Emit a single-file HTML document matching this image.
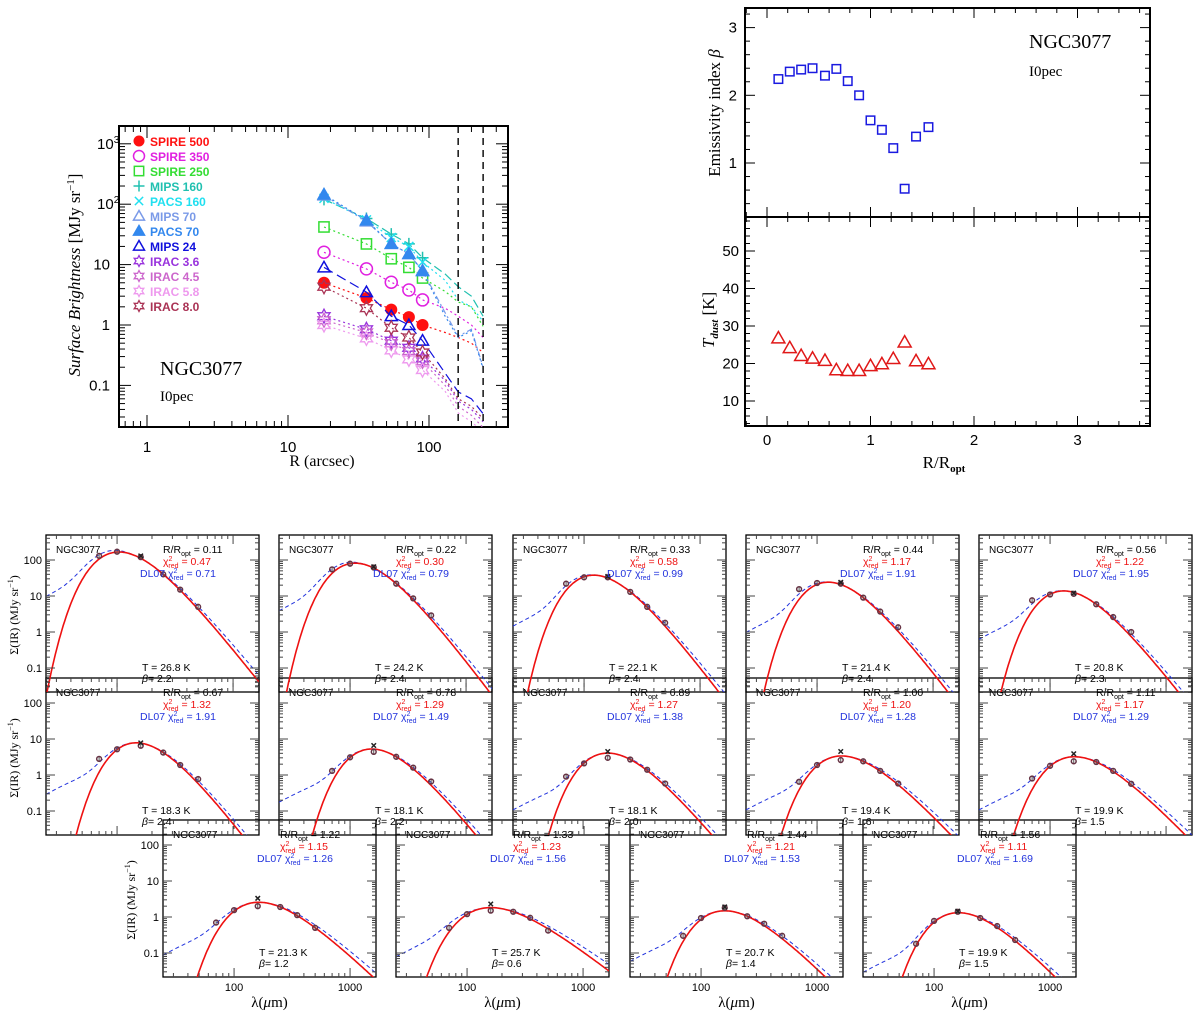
<!DOCTYPE html>
<html><head><meta charset="utf-8">
<style>
html,body{margin:0;padding:0;background:#fff;}
svg{display:block;}
text{font-family:"Liberation Sans",sans-serif;}
.serif{font-family:"Liberation Serif",serif;}
</style></head>
<body>
<svg id="fig" xmlns="http://www.w3.org/2000/svg" width="1200" height="1012" viewBox="0 0 1200 1012">
<defs id="defs"></defs>
</svg>
<script>
// ===== Top-left: surface brightness profiles =====
const radii = [18, 36, 54, 72, 90];
const extRadii = [130, 161, 200, 242];
const bandNames = ['SPIRE 500','SPIRE 350','SPIRE 250','MIPS 160','PACS 160','MIPS 70','PACS 70','MIPS 24','IRAC 3.6','IRAC 4.5','IRAC 5.8','IRAC 8.0'];
const sbSpire500 = [5, 2.8, 1.8, 1.35, 1.0];
const sbSpire350 = [16, 8.5, 5.1, 3.8, 2.6];
const sbSpire250 = [42, 22, 12.5, 9, 6];
const sbMips160 = [120, 58, 32, 22, 13];
const sbPacs160 = [125, 55, 28, 20, 11];
const sbMips70 = [140, 52, 22, 15, 8];
const sbPacs70 = [145, 54, 22, 15, 7.8];
const sbMips24 = [9, 3.5, 1.4, 1.0, 0.55];
const sbIrac36 = [1.4, 0.85, 0.55, 0.42, 0.28];
const sbIrac45 = [1.2, 0.75, 0.5, 0.37, 0.25];
const sbIrac58 = [1.0, 0.6, 0.38, 0.27, 0.18];
const sbIrac80 = [4.3, 1.9, 0.9, 0.62, 0.35];
const extSpire500 = [0.75, 0.62, 0.5, 0.35];
const extSpire350 = [1.9, 1.4, 1.0, 0.62];
const extSpire250 = [3.6, 2.4, 2.0, 0.95];
const extMips160 = [7, 4.3, 3, 1.4];
const extPacs160 = [5.5, 2.6, 2.0, 1.15];
const extMips70 = [1.6, 0.65, 0.85, 0.2];
const extPacs70 = [1.4, 0.62, 0.8, 0.19];
const extMips24 = [0.16, 0.078, 0.06, 0.034];
const extIrac36 = [0.12, 0.055, 0.04, 0.025];
const extIrac45 = [0.1, 0.045, 0.032, 0.02];
const extIrac58 = [0.08, 0.035, 0.025, 0.017];
const extIrac80 = [0.13, 0.06, 0.045, 0.028];
const vlineRadii = [161, 242];
const sbXTicks = [1, 10, 100];
const sbYTicks = [1000, 100, 10, 1, 0.1];

// ===== Top-right: beta and T vs radius =====
const rRopt = [0.11,0.22,0.33,0.44,0.56,0.67,0.78,0.89,1.00,1.11,1.22,1.33,1.44,1.56];
const betaVals = [2.24,2.35,2.38,2.40,2.29,2.39,2.21,2.00,1.63,1.49,1.22,0.62,1.39,1.53];
const tdustVals = [26.8,24.2,22.1,21.4,20.8,18.3,18.1,18.1,19.4,19.9,21.3,25.7,20.7,19.9];
const rXTicks = [0,1,2,3];
const betaTicks = [1,2,3];
const tTicks = [10,20,30,40,50];

// ===== SED panels =====
const sedR = ['0.11','0.22','0.33','0.44','0.56','0.67','0.78','0.89','1.00','1.11','1.22','1.33','1.44','1.56'];
const sedT = [26.8,24.2,22.1,21.4,20.8,18.3,18.1,18.1,19.4,19.9,21.3,25.7,20.7,19.9];
const sedBeta = [2.2,2.4,2.4,2.4,2.3,2.4,2.2,2.0,1.6,1.5,1.2,0.6,1.4,1.5];
const sedChi = ['0.47','0.30','0.58','1.17','1.22','1.32','1.29','1.27','1.20','1.17','1.15','1.23','1.21','1.11'];
const sedChiDL = ['0.71','0.79','0.99','1.91','1.95','1.91','1.49','1.38','1.28','1.29','1.26','1.56','1.53','1.69'];
const sedLam = [70,100,160,250,350,500];
const sedP70 = [130,55,22,15.5,7.6,2.8,1.3,0.9,0.65,0.8,0.7,0.5,0.3,0.18];
const sedP100 = [170,79,33,23,11,5.2,3.1,2.1,1.9,1.8,1.55,1.2,0.94,0.78];
const sedP160 = [120,62,33,22,11.5,6.5,4.4,3.0,2.6,2.4,2.0,1.5,1.8,1.4];
const sedM160 = [130,65,35,24,12,7.8,6.6,4.5,4.5,3.9,3.3,2.3,1.9,1.45];
const sedP250 = [40,22,13,9,5.9,4.2,3.2,2.7,2.4,2.3,1.9,1.4,1.05,0.94];
const sedP350 = [15,8.6,5,3.7,2.6,1.9,1.6,1.4,1.3,1.3,1.13,0.95,0.65,0.56];
const sedP500 = [5,2.9,1.8,1.35,1.0,0.77,0.66,0.58,0.58,0.57,0.5,0.42,0.3,0.23];
const sedWarm = [10,4,1.5,1.0,0.65,0.3,0.18,0.11,0.11,0.11,0.09,0.08,0.06,0.03];
const sedYTicks = [100,10,1,0.1];
const sedXTicks = [100,1000];

const NS = 'http://www.w3.org/2000/svg';
const svg = document.getElementById('fig');
const defs = document.getElementById('defs');
const L10 = Math.log10;

function mk(tag, attrs, parent) {
  const e = document.createElementNS(NS, tag);
  for (const k in attrs) e.setAttribute(k, attrs[k]);
  (parent || svg).appendChild(e);
  return e;
}
function line(x1,y1,x2,y2,stroke,w,name,parent,dash) {
  const e = mk('line',{x1:x1,y1:y1,x2:x2,y2:y2,stroke:stroke,'stroke-width':w,'stroke-dasharray':dash||'none'},parent);
  
  
  return e;
}
function txt(x,y,s,opts,name,parent) {
  const e = mk('text',Object.assign({x:x,y:y,'font-size':11,fill:'#000'},opts||{}),parent);
  e.innerHTML = s;
  
  
  return e;
}
function polyl(pts,stroke,w,dash,name,parent) {
  const e = mk('polyline',{points:pts.map(p=>p[0].toFixed(1)+','+p[1].toFixed(1)).join(' '),fill:'none',stroke:stroke,'stroke-width':w,'stroke-dasharray':dash||'none'},parent);
  
  
  return e;
}
function rect(x,y,w,h,name,parent,sw,fill) {
  const e = mk('rect',{x:x,y:y,width:w,height:h,fill:fill||'#fff',stroke:'#000','stroke-width':sw||1.5},parent);
  
  
  return e;
}
function clip(id,x,y,w,h){
  const c = mk('clipPath',{id:id},defs);
  mk('rect',{x:x,y:y,width:w,height:h},c);
}
function marker(type,x,y,color,r,name,parent) {
  let e;
  const sw = 1.5;
  if (type==='fcircle') e = mk('circle',{cx:x,cy:y,r:r,fill:color},parent);
  else if (type==='ocircle') e = mk('circle',{cx:x,cy:y,r:r,fill:'none',stroke:color,'stroke-width':sw},parent);
  else if (type==='square') e = mk('rect',{x:x-r*0.85,y:y-r*0.85,width:r*1.7,height:r*1.7,fill:'none',stroke:color,'stroke-width':sw},parent);
  else if (type==='plus') e = mk('path',{d:`M${x-r} ${y}H${x+r}M${x} ${y-r}V${y+r}`,stroke:color,'stroke-width':sw,fill:'none'},parent);
  else if (type==='cross') e = mk('path',{d:`M${x-r*0.75} ${y-r*0.75}L${x+r*0.75} ${y+r*0.75}M${x-r*0.75} ${y+r*0.75}L${x+r*0.75} ${y-r*0.75}`,stroke:color,'stroke-width':sw,fill:'none'},parent);
  else if (type==='otri' || type==='ftri') e = mk('polygon',{points:`${x},${y-r} ${x+r},${y+r*0.75} ${x-r},${y+r*0.75}`,fill:type==='ftri'?color:'none',stroke:color,'stroke-width':sw},parent);
  else if (type==='star') {
    const p=[]; for(let k=0;k<12;k++){const a=-Math.PI/2+k*Math.PI/6; const rr=k%2?r*0.55:r; p.push((x+rr*Math.cos(a)).toFixed(1)+','+(y+rr*Math.sin(a)).toFixed(1));}
    e = mk('polygon',{points:p.join(' '),fill:'none',stroke:color,'stroke-width':1.3},parent);
  }
  
  
  return e;
}

// ---------- TOP-LEFT ----------
const TL = {l:119, r:508, t:126, b:427};
const sx = R => 147 + 141*L10(R);
const sy = v => 325 - 60.4*L10(v);
rect(TL.l, TL.t, TL.r-TL.l, TL.b-TL.t, 'profile-plot-frame', null, 2);
clip('cTL', TL.l, TL.t, TL.r-TL.l, TL.b-TL.t);
const gTL = mk('g',{'clip-path':'url(#cTL)'});


for (let d=-1; d<=2; d++) for (let m=1; m<=9; m++) {
  const R = m*Math.pow(10,d); const x = sx(R);
  if (x<=TL.l||x>=TL.r) continue;
  const len = m===1?12:6;
  line(x,TL.b,x,TL.b-len,'#000',1,'x-tick',null);
  line(x,TL.t,x,TL.t+len,'#000',1,'x-tick',null);
}
for (let d=-2; d<=3; d++) for (let m=1; m<=9; m++) {
  const v = m*Math.pow(10,d); const y = sy(v);
  if (y<=TL.t||y>=TL.b) continue;
  const len = m===1?12:6;
  line(TL.l,y,TL.l+len,y,'#000',1,'y-tick',null);
  line(TL.r,y,TL.r-len,y,'#000',1,'y-tick',null);
}
sbXTicks.forEach(R => txt(sx(R), 452, String(R), {'text-anchor':'middle','font-size':15}, 'x-tick-label'));
const yLab = {1000:'10<tspan dy="-6" font-size="10">3</tspan>',100:'10<tspan dy="-6" font-size="10">2</tspan>',10:'10',1:'1',0.1:'0.1'};
sbYTicks.forEach(v => txt(v>=100?97:110, sy(v)+5, yLab[v], {'text-anchor':v>=100?'start':'end','font-size':15}, 'y-tick-label'));
txt(322, 466, 'R (arcsec)', {'text-anchor':'middle','font-size':16,class:'serif'}, 'x-axis-title');
txt(0,0,'<tspan font-style="italic">Surface Brightness</tspan> [MJy sr<tspan dy="-6" font-size="11">−1</tspan><tspan dy="6">]</tspan>',{'text-anchor':'middle','font-size':17,class:'serif',transform:'translate(80,275) rotate(-90)'},'y-axis-title');
txt(160, 375, 'NGC3077', {'font-size':20,class:'serif'}, 'galaxy-name');
txt(160, 401, 'I0pec', {'font-size':15,class:'serif'}, 'galaxy-type');
vlineRadii.forEach(R => line(sx(R),TL.t,sx(R),TL.b,'#000',1.4,'aperture-limit-line',null,'7,5'));

const series = [
  {v:sbSpire500, e:extSpire500, c:'#ff1010', m:'fcircle', d:'2,3'},
  {v:sbSpire350, e:extSpire350, c:'#e020e0', m:'ocircle', d:'2,3'},
  {v:sbSpire250, e:extSpire250, c:'#33dd33', m:'square', d:'2,3'},
  {v:sbMips160, e:extMips160, c:'#20c0b0', m:'plus', d:'9,4'},
  {v:sbPacs160, e:extPacs160, c:'#20e0f0', m:'cross', d:'2,3'},
  {v:sbMips70, e:extMips70, c:'#7a9ae8', m:'otri', d:'6,3,2,3'},
  {v:sbPacs70, e:extPacs70, c:'#3388ee', m:'ftri', d:'2,3'},
  {v:sbMips24, e:extMips24, c:'#1010dd', m:'otri', d:'10,5'},
  {v:sbIrac36, e:extIrac36, c:'#9933dd', m:'star', d:'2,3'},
  {v:sbIrac45, e:extIrac45, c:'#cc66cc', m:'star', d:'2,3'},
  {v:sbIrac58, e:extIrac58, c:'#ee99ee', m:'star', d:'2,3'},
  {v:sbIrac80, e:extIrac80, c:'#aa3355', m:'star', d:'2,3'}
];
series.forEach((s,i) => {
  const pts = radii.map((R,k)=>[sx(R),sy(s.v[k])]).concat(extRadii.map((R,k)=>[sx(R),sy(s.e[k])]));
  polyl(pts, s.c, 1.2, s.d, 'profile-line-'+i, gTL);
  radii.forEach((R,k)=>marker(s.m, sx(R), sy(s.v[k]), s.c, s.m==='star'?7:6, 'profile-point', gTL));
  marker(s.m, 139, 141+15*i, s.c, 5.5, 'legend-marker', null);
  txt(150, 146+15*i, bandNames[i], {'font-size':12,'font-weight':'bold',fill:s.c}, 'legend-entry');
});

// ---------- TOP-RIGHT ----------
const TR = {l:745, r:1150, t:8, m:217, b:426};
const rx = v => 767 + 103.5*v;
const by = v => 163 - 67.7*(v-1);
const ty = v => 251 + 3.75*(50-v);
rect(TR.l, TR.t, TR.r-TR.l, TR.m-TR.t, 'beta-panel-frame', null, 2);
rect(TR.l, TR.m, TR.r-TR.l, TR.b-TR.m, 'tdust-panel-frame', null, 2);
for (let v=-0.2; v<=3.61; v+=0.2) {
  const x = rx(v); if (x<=TR.l+1||x>=TR.r-1) continue;
  const major = Math.abs(v-Math.round(v))<0.01; const len = major?10:5;
  [TR.t, TR.m, TR.b].forEach(y0 => {
    if (y0!==TR.t) line(x,y0,x,y0-len,'#000',1,'x-tick',null);
    if (y0!==TR.b) line(x,y0,x,y0+len,'#000',1,'x-tick',null);
  });
}
for (let v=0.4; v<=3.21; v+=0.2) {
  const y = by(v); const major = Math.abs(v-Math.round(v))<0.01; const len = major?10:5;
  line(TR.l,y,TR.l+len,y,'#000',1,'y-tick',null); line(TR.r,y,TR.r-len,y,'#000',1,'y-tick',null);
}
for (let v=4; v<=58; v+=2) {
  const y = ty(v); const major = v%10===0; const len = major?10:5;
  line(TR.l,y,TR.l+len,y,'#000',1,'y-tick',null); line(TR.r,y,TR.r-len,y,'#000',1,'y-tick',null);
}
rXTicks.forEach(v => txt(rx(v), 445, String(v), {'text-anchor':'middle','font-size':15}, 'x-tick-label'));
betaTicks.forEach(v => txt(737, by(v)+5, String(v), {'text-anchor':'end','font-size':15}, 'beta-tick-label'));
tTicks.forEach(v => txt(739, ty(v)+5, String(v), {'text-anchor':'end','font-size':15}, 'tdust-tick-label'));
txt(944, 468, 'R/R<tspan dy="4" font-size="11" font-weight="bold">opt</tspan>', {'text-anchor':'middle','font-size':17,class:'serif'}, 'x-axis-title');
txt(0,0,'Emissivity index <tspan font-style="italic">β</tspan>',{'text-anchor':'middle','font-size':17,class:'serif',transform:'translate(720,113) rotate(-90)'},'beta-axis-title');
txt(0,0,'<tspan font-style="italic">T</tspan><tspan dy="4" font-size="11" font-style="italic" font-weight="bold">dust</tspan><tspan dy="-4"> [K]</tspan>',{'text-anchor':'middle','font-size':17,class:'serif',transform:'translate(714,320) rotate(-90)'},'tdust-axis-title');
txt(1029, 48, 'NGC3077', {'font-size':20,class:'serif'}, 'galaxy-name');
txt(1029, 76, 'I0pec', {'font-size':15,class:'serif'}, 'galaxy-type');
rRopt.forEach((r,i) => marker('square', rx(r), by(betaVals[i]), '#1a1ae0', 5, 'beta-point', null));
rRopt.forEach((r,i) => marker('otri', rx(r), ty(tdustVals[i]), '#e01818', 6.5, 'tdust-point', null));

// ---------- SED PANELS ----------
const PW = 213, PH = 157;
const panelPos = [
  [46,535],[279,535],[513,535],[746,535],[979,535],
  [46,678],[279,678],[513,678],[746,678],[979,678],
  [163,820],[396,820],[630,820],[863,820]
];
function mbb(lam,T,b){ return Math.pow(lam,-(3+b)) / (Math.exp(14388/(lam*T))-1); }
[13,12,11,10,9,8,7,6,5,4,3,2,1,0].forEach(i => {
  const [L,T0] = panelPos[i];
  const bg = mk('rect',{x:L,y:T0,width:PW,height:PH,fill:'#fff',stroke:'none'});
  
  
});
[10,11,12,13,5,6,7,8,9,0,1,2,3,4].forEach(i => {
  const [L,T0] = panelPos[i];
  const gx = lam => L + 116*L10(lam/24.4);
  const gy = v => T0 + 25 + 36*(2 - L10(v));
  const g = mk('g',{});
  
  
  rect(L, T0, PW, PH, 'sed-panel-frame', g, 1.3, 'none');
  clip('cp'+i, L, T0, PW, PH);
  const gc = mk('g',{'clip-path':'url(#cp'+i+')'}, g);
  
  
  for (let d=1; d<=3; d++) for (let m=1; m<=9; m++) {
    const lam = m*Math.pow(10,d); const x = gx(lam);
    if (x<=L+1||x>=L+PW-1) continue;
    const len = m===1?9:4;
    line(x,T0+PH,x,T0+PH-len,'#444',1,'x-tick',g); line(x,T0,x,T0+len,'#444',1,'x-tick',g);
  }
  for (let d=-2; d<=2; d++) for (let m=1; m<=9; m++) {
    const v = m*Math.pow(10,d); const y = gy(v);
    if (y<=T0+1||y>=T0+PH-1) continue;
    const len = m===1?9:4;
    line(L,y,L+len,y,'#444',1,'y-tick',g); line(L+PW,y,L+PW-len,y,'#444',1,'y-tick',g);
  }
  const A = sedP250[i] / mbb(250, sedT[i], sedBeta[i]);
  const red = [], blue = [];
  for (let k=0; k<=160; k++) {
    const lam = 24.4*Math.pow(10, k/160*1.84);
    const f = A*mbb(lam, sedT[i], sedBeta[i]);
    const w = sedWarm[i]*Math.pow(lam/24.4,1.8)*Math.exp(-Math.pow(lam/80,3));
    const bl = f*(lam>200?Math.pow(lam/200,0.2):1) + w;
    red.push([gx(lam), Math.min(gy(Math.max(f,1e-6)), T0+PH+50)]);
    blue.push([gx(lam), Math.min(gy(bl), T0+PH+50)]);
  }
  polyl(blue, '#2233dd', 1, '4,3', 'dl07-model-curve', gc);
  polyl(red, '#ee1111', 1.6, 'none', 'mbb-fit-curve', gc);
  const vals = [sedP70[i], sedP100[i], sedP160[i], sedP250[i], sedP350[i], sedP500[i]];
  sedLam.forEach((lam,k) => {
    line(gx(lam), gy(vals[k]*1.15), gx(lam), gy(vals[k]/1.15), '#555', 1, 'error-bar', gc);
    marker('ocircle', gx(lam), gy(vals[k]), '#663344', 2.4, 'sed-point', gc);
  });
  marker('cross', gx(160), gy(sedM160[i]), '#222', 3, 'mips160-point', gc);
  const chiSym = 'χ<tspan dy="-4" font-size="7">2</tspan><tspan dx="-4" dy="7" font-size="7">red</tspan><tspan dy="-3">';
  txt(L+10, T0+18, 'NGC3077', {'font-size':10}, 'panel-galaxy-name', g);
  txt(L+117, T0+18, 'R/R<tspan dy="3" font-size="7">opt</tspan><tspan dy="-3"> = '+sedR[i]+'</tspan>', {'font-size':10.5}, 'panel-radius-label', g);
  txt(L+117, T0+30, chiSym+' = '+sedChi[i]+'</tspan>', {'font-size':10.5,fill:'#ee1111'}, 'panel-chi2-label', g);
  txt(L+94, T0+42, 'DL07 '+chiSym+' = '+sedChiDL[i]+'</tspan>', {'font-size':10.5,fill:'#2233dd'}, 'panel-dl07-chi2-label', g);
  txt(L+96, T0+136, 'T = '+sedT[i].toFixed(1)+' K', {'font-size':10.5}, 'panel-temperature-label', g);
  txt(L+96, T0+147, '<tspan font-style="italic">β</tspan>= '+sedBeta[i].toFixed(1), {'font-size':10.5}, 'panel-beta-label', g);
  if (L===46 || L===163) {
    sedYTicks.forEach(v => txt(L-4, gy(v)+4, String(v), {'text-anchor':'end','font-size':11}, 'sed-y-tick-label', g));
    txt(0,0,'Σ(IR) (MJy sr<tspan dy="-5" font-size="8">−1</tspan><tspan dy="5">)</tspan>',{'text-anchor':'middle','font-size':12,class:'serif',transform:`translate(${L-28},${T0+80}) rotate(-90)`},'sed-y-axis-title',g);
  }
  if (i>=10) {
    sedXTicks.forEach(v => txt(gx(v), T0+PH+14, String(v), {'text-anchor':'middle','font-size':11}, 'sed-x-tick-label', g));
    txt(L+PW/2, T0+PH+30, 'λ(<tspan font-style="italic">μ</tspan>m)', {'text-anchor':'middle','font-size':15,class:'serif'}, 'sed-x-axis-title', g);
  }
});
</script>
</body></html>
